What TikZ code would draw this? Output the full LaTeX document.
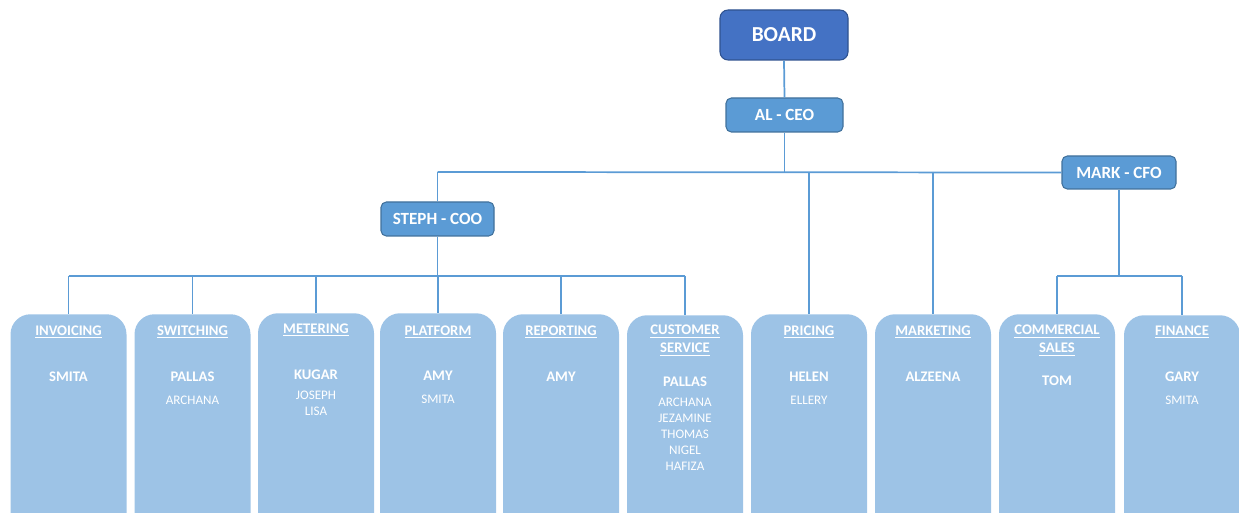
\documentclass[tikz,border=0pt]{standalone}
\usepackage{fontspec}
\setmainfont{Carlito}
\definecolor{boardfill}{HTML}{4472C4}
\definecolor{boardline}{HTML}{2F528F}
\definecolor{midfill}{HTML}{5B9BD5}
\definecolor{midline}{HTML}{41719C}
\definecolor{deptfill}{HTML}{9DC3E6}
\definecolor{conn}{HTML}{5B9BD5}
\begin{document}
\begin{tikzpicture}[x=0.75pt,y=-0.75pt,
  conline/.style={draw=conn,line width=1.3pt},
  boardbox/.style={draw=boardline,fill=boardfill,line width=0.8pt,rounded corners=6pt,minimum width=96pt,minimum height=37.5pt,text=white,font=\bfseries\fontsize{16}{18}\selectfont,inner sep=0pt},
  execbox/.style={draw=midline,fill=midfill,line width=0.8pt,rounded corners=4pt,minimum height=25.5pt,text=white,font=\bfseries\fontsize{12.8}{14}\selectfont,inner sep=0pt},
  deptbox/.style={fill=deptfill,rounded corners=15pt,minimum width=87pt,minimum height=169.5pt,anchor=north,inner sep=0pt},
  depttitle/.style={text=white,font=\bfseries\fontsize{11}{13.5}\selectfont,align=center,inner sep=0pt},
  headname/.style={text=white,font=\bfseries\fontsize{11}{12}\selectfont,inner sep=0pt},
  staff/.style={text=white,font=\fontsize{9.8}{12}\selectfont,align=center,inner sep=0pt}
]
\useasboundingbox (0,0) rectangle (1239,513);
\clip (0,0) rectangle (1239,513);

% top
\node[boardbox] (board) at (784,35) {BOARD};
\node[execbox,minimum width=87.75pt] (ceo) at (784.5,115) {AL - CEO};
\node[execbox,minimum width=84.75pt] (coo) at (437.5,219) {STEPH - COO};
\node[execbox,minimum width=85.5pt,minimum height=24.75pt] (cfo) at (1119,172.5) {MARK - CFO};

% departments
\node[deptbox] (inv) at (68.5,314) {};
\node[deptbox] (sw) at (192.5,314) {};
\node[deptbox] (met) at (316,313) {};
\node[deptbox] (plat) at (438,313) {};
\node[deptbox] (rep) at (561,314) {};
\node[deptbox] (cs) at (685,315) {};
\node[deptbox] (pri) at (809,314) {};
\node[deptbox] (mkt) at (933,314) {};
\node[deptbox] (com) at (1057,314) {};
\node[deptbox] (fin) at (1182,315) {};

% bus coordinates
\coordinate (topbus) at (0,172);
\coordinate (coobus) at (0,276);
\coordinate (cfobus) at (0,276);

% connectors
\draw[conline] (board.south) -- (ceo.north);
\draw[conline] (ceo.south) -- (ceo.south |- topbus);
\draw[conline] (coo.north |- topbus) -- (cfo.west);
\draw[conline] (coo.north |- topbus) -- (coo.north);
\draw[conline] (pri.north |- topbus) -- (pri.north);
\draw[conline] (mkt.north |- topbus) -- (mkt.north);
\draw[conline] (coo.south) -- (coo.south |- coobus);
\draw[conline] (inv.north |- coobus) -- (cs.north |- coobus);
\foreach \d in {inv,sw,met,plat,rep,cs}
  \draw[conline] (\d.north |- coobus) -- (\d.north);
\draw[conline] (cfo.south) -- (cfo.south |- cfobus);
\draw[conline] (com.north |- cfobus) -- (fin.north |- cfobus);
\foreach \d in {com,fin}
  \draw[conline] (\d.north |- cfobus) -- (\d.north);

% texts
\node[depttitle] (invT) at (68.5,332) {\underline{INVOICING}};
\node[headname] (invH) at (68.5,377) {SMITA};

\node[depttitle] (swT) at (192.5,332) {\underline{SWITCHING}};
\node[headname] (swH) at (192.5,377) {PALLAS};
\node[staff] (swS) at (192.5,400) {ARCHANA};

\node[depttitle] (metT) at (316,330) {\underline{METERING}};
\node[headname] (metH) at (316,375) {KUGAR};
\node[staff,anchor=north] (metS) at (316,391) {JOSEPH\\LISA};

\node[depttitle] (platT) at (438,332) {\underline{PLATFORM}};
\node[headname] (platH) at (438,376) {AMY};
\node[staff] (platS) at (438,399) {SMITA};

\node[depttitle] (repT) at (561,332) {\underline{REPORTING}};
\node[headname] (repH) at (561,377) {AMY};

\node[depttitle,anchor=north] (csT) at (685,325) {\underline{CUSTOMER}\\\underline{SERVICE}};
\node[headname] (csH) at (685,382) {PALLAS};
\node[staff,anchor=north] (csS) at (685,398) {ARCHANA\\JEZAMINE\\THOMAS\\NIGEL\\HAFIZA};

\node[depttitle] (priT) at (809,332) {\underline{PRICING}};
\node[headname] (priH) at (809,377) {HELEN};
\node[staff] (priS) at (809,400) {ELLERY};

\node[depttitle] (mktT) at (933,332) {\underline{MARKETING}};
\node[headname] (mktH) at (933,377) {ALZEENA};

\node[depttitle,anchor=north] (comT) at (1057,325) {\underline{COMMERCIAL}\\\underline{SALES}};
\node[headname] (comH) at (1057,381) {TOM};

\node[depttitle] (finT) at (1182,332) {\underline{FINANCE}};
\node[headname] (finH) at (1182,377) {GARY};
\node[staff] (finS) at (1182,400) {SMITA};
\end{tikzpicture}
\end{document}
